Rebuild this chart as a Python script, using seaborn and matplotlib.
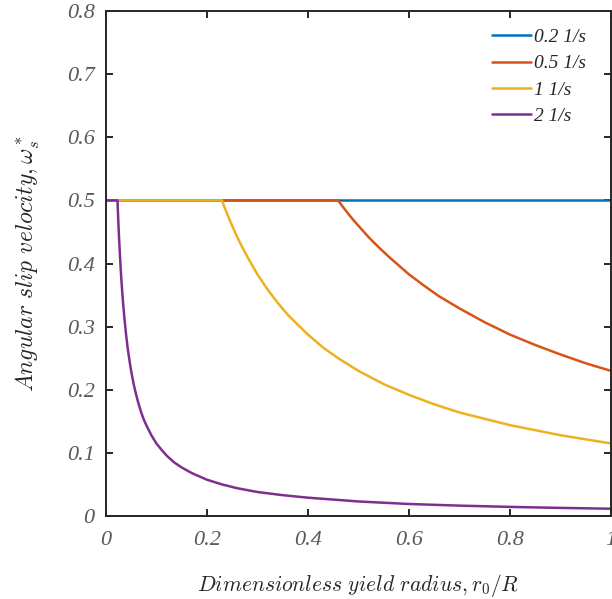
import pandas as pd
import seaborn as sns
import matplotlib.pyplot as plt

# data
x_02 = [0.0, 0.25, 0.5, 0.75, 1.0]
y_02 = [0.5, 0.5, 0.5, 0.5, 0.5]

x_05 = [0.0, 0.46, 0.47, 0.48, 0.49, 0.5, 0.52, 0.54, 0.56, 0.58, 0.6, 0.63, 0.66, 0.7, 0.75,
        0.8, 0.85, 0.9, 0.95, 1.0]
y_05 = [0.5, 0.5, 0.489, 0.479, 0.469, 0.46, 0.442, 0.426, 0.411, 0.397, 0.383, 0.365, 0.348,
        0.329, 0.307, 0.2875, 0.271, 0.256, 0.242, 0.23]

x_1 = [0.0, 0.23, 0.235, 0.24, 0.25, 0.26, 0.27, 0.28, 0.29, 0.3, 0.32, 0.34, 0.36, 0.38, 0.4,
       0.43, 0.46, 0.5, 0.55, 0.6, 0.65, 0.7, 0.8, 0.9, 1.0]
y_1 = [0.5, 0.5, 0.489, 0.479, 0.46, 0.442, 0.426, 0.411, 0.397, 0.383, 0.359, 0.338, 0.319,
       0.303, 0.2875, 0.267, 0.25, 0.23, 0.209, 0.192, 0.177, 0.164, 0.144, 0.128, 0.115]

x_2 = [0.0, 0.023, 0.024, 0.025, 0.026, 0.028, 0.03, 0.032, 0.034, 0.037, 0.04, 0.043, 0.047,
       0.05, 0.055, 0.06, 0.065, 0.07, 0.075, 0.08, 0.09, 0.1, 0.11, 0.12, 0.135, 0.15, 0.17,
       0.2, 0.23, 0.26, 0.3, 0.35, 0.4, 0.5, 0.6, 0.7, 0.8, 0.9, 1.0]
y_2 = [0.5, 0.5, 0.479, 0.46, 0.442, 0.411, 0.383, 0.359, 0.338, 0.311, 0.2875, 0.267, 0.245,
       0.23, 0.209, 0.192, 0.177, 0.164, 0.153, 0.144, 0.128, 0.115, 0.105, 0.096, 0.085, 0.077,
       0.068, 0.0575, 0.05, 0.044, 0.038, 0.033, 0.029, 0.023, 0.019, 0.0164, 0.0144, 0.0128,
       0.0115]

labels = ['0.2 1/s', '0.5 1/s', '1 1/s', '2 1/s']
colors = ['#0072BD', '#D95319', '#EDB120', '#7E2F8E']

series = [(x_02, y_02), (x_05, y_05), (x_1, y_1), (x_2, y_2)]

sns.set_style('white')
plt.rcParams['font.family'] = ['Liberation Serif', 'DejaVu Serif']
plt.rcParams['mathtext.fontset'] = 'cm'

fig = plt.figure(figsize=(6.12, 5.99), dpi=100)
ax = fig.add_axes([0.173, 0.1386, 0.825, 0.843])

for (xs, ys), lab, col in zip(series, labels, colors):
    df = pd.DataFrame({'x': xs, 'y': ys})
    sns.lineplot(data=df, x='x', y='y', ax=ax, color=col, linewidth=1.8,
                 label=lab, sort=False, estimator=None)

ax.set_xlim(0, 1)
ax.set_ylim(0, 0.8)
ax.set_xticks([0, 0.2, 0.4, 0.6, 0.8, 1.0])
ax.set_xticklabels(['0', '0.2', '0.4', '0.6', '0.8', '1'])
ax.set_yticks([0, 0.1, 0.2, 0.3, 0.4, 0.5, 0.6, 0.7, 0.8])
ax.set_yticklabels(['0', '0.1', '0.2', '0.3', '0.4', '0.5', '0.6', '0.7', '0.8'])

for sp in ax.spines.values():
    sp.set_visible(True)
    sp.set_color('#262626')
    sp.set_linewidth(1.4)

ax.tick_params(direction='in', length=5, width=1.4, color='#262626',
               top=True, right=True, bottom=True, left=True,
               labelsize=16, labelcolor='#5a5a5a', pad=8)
ax.tick_params(axis='x', pad=11)
for t in ax.get_xticklabels() + ax.get_yticklabels():
    t.set_fontstyle('italic')

ax.set_xlabel(r'$Dimensionless\ yield\ radius, r_0/R$', fontsize=15.5, labelpad=16)
ax.set_ylabel(r'$Angular\ slip\ velocity, \omega_s^*$', fontsize=17, labelpad=18)

leg = ax.legend(loc='upper right', frameon=False, fontsize=14, handlelength=2.0,
                borderaxespad=0.5, labelspacing=0.45, handletextpad=0.15,
                bbox_to_anchor=(0.985, 1.0))
for t in leg.get_texts():
    t.set_fontstyle('italic')

fig.savefig('out.png', dpi=100)
